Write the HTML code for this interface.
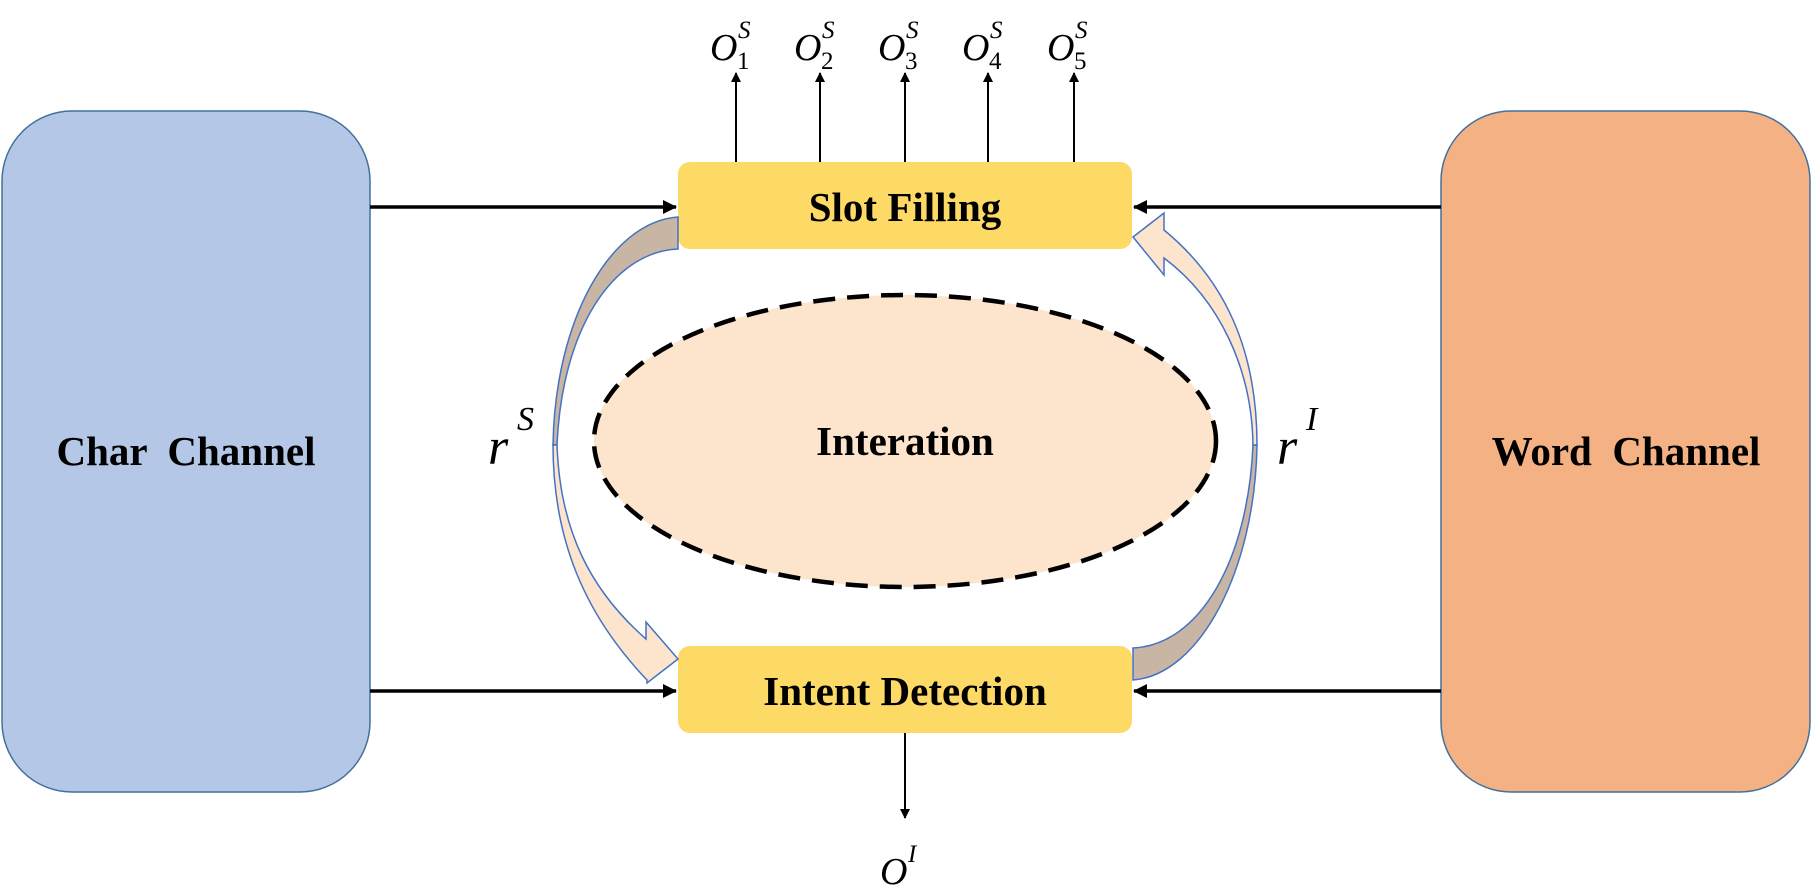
<!DOCTYPE html>
<html><head><meta charset="utf-8"><style>
html,body{margin:0;padding:0;background:#fff;}
svg{display:block;}
text{font-family:"Liberation Serif",serif;}
</style></head><body>
<svg width="1812" height="892" viewBox="0 0 1812 892" xmlns="http://www.w3.org/2000/svg">
<defs>
<marker id="ah" markerWidth="10" markerHeight="10" refX="9" refY="5" orient="auto" markerUnits="userSpaceOnUse">
<path d="M0,0 L10,5 L0,10 Z" fill="#000"/>
</marker>
<marker id="ah2" markerWidth="14" markerHeight="14" refX="13" refY="7" orient="auto" markerUnits="userSpaceOnUse">
<path d="M0,0 L14,7 L0,14 Z" fill="#000"/>
</marker>
</defs>
<rect x="2" y="111" width="368" height="681" rx="70" ry="70" fill="#b4c7e7" stroke="#41719c" stroke-width="1.5"/>
<rect x="1441" y="111" width="369" height="681" rx="70" ry="70" fill="#f4b183" stroke="#41719c" stroke-width="1.5"/>
<text x="186" y="465" font-size="41" font-weight="bold" text-anchor="middle" xml:space="preserve">Char  Channel</text>
<text x="1626" y="465" font-size="41" font-weight="bold" text-anchor="middle" xml:space="preserve">Word  Channel</text>
<rect x="678" y="162" width="454" height="87" rx="12" fill="#fdd966"/>
<rect x="678" y="646" width="454" height="87" rx="12" fill="#fdd966"/>
<text x="905" y="221" font-size="41" font-weight="bold" text-anchor="middle">Slot Filling</text>
<text x="905" y="705" font-size="41" font-weight="bold" text-anchor="middle">Intent Detection</text>
<g stroke="#000" stroke-width="3.5">
<line x1="370" y1="207" x2="676" y2="207" marker-end="url(#ah2)"/>
<line x1="370" y1="691" x2="676" y2="691" marker-end="url(#ah2)"/>
<line x1="1441" y1="207" x2="1134" y2="207" marker-end="url(#ah2)"/>
<line x1="1441" y1="691" x2="1134" y2="691" marker-end="url(#ah2)"/>
</g>
<g stroke="#000" stroke-width="2">
<line x1="736" y1="162" x2="736" y2="73" marker-end="url(#ah)"/>
<line x1="820" y1="162" x2="820" y2="73" marker-end="url(#ah)"/>
<line x1="905" y1="162" x2="905" y2="73" marker-end="url(#ah)"/>
<line x1="988" y1="162" x2="988" y2="73" marker-end="url(#ah)"/>
<line x1="1074" y1="162" x2="1074" y2="73" marker-end="url(#ah)"/>
<line x1="905" y1="733" x2="905" y2="818" marker-end="url(#ah)"/>
</g>
<g font-size="38" font-style="italic">
<text x="710" y="60">O</text><text x="738" y="38" font-size="25">S</text><text x="737" y="69" font-size="25" font-style="normal">1</text>
<text x="794" y="60">O</text><text x="822" y="38" font-size="25">S</text><text x="821" y="69" font-size="25" font-style="normal">2</text>
<text x="878" y="60">O</text><text x="906" y="38" font-size="25">S</text><text x="905" y="69" font-size="25" font-style="normal">3</text>
<text x="962" y="60">O</text><text x="990" y="38" font-size="25">S</text><text x="989" y="69" font-size="25" font-style="normal">4</text>
<text x="1047" y="60">O</text><text x="1075" y="38" font-size="25">S</text><text x="1074" y="69" font-size="25" font-style="normal">5</text>
<text x="880" y="884">O</text><text x="908" y="862" font-size="25">I</text>
</g>
<ellipse cx="905" cy="441" rx="311" ry="146" fill="#fde4cd" stroke="#000" stroke-width="4.5" stroke-dasharray="22,12"/>
<text x="905" y="455" font-size="41" font-weight="bold" text-anchor="middle">Interation</text>
<path d="M678,217 C610,222 555,320 553,445 L557,445 C562,330 612,252 678,249 Z" fill="#c9b5a3" stroke="#4472c4" stroke-width="1.5"/>
<path d="M553,445 C553,540 585,615 647,680 L647,683 L678,659 L646,622 L646,639 C590,590 560,530 557,445 Z" fill="#fde4cd" stroke="#4472c4" stroke-width="1.5"/>
<path d="M1133,680 C1200,675 1255,570 1257,445 L1253,445 C1248,560 1200,645 1133,648 Z" fill="#c9b5a3" stroke="#4472c4" stroke-width="1.5"/>
<path d="M1257,445 C1257,350 1225,280 1164,230 L1164,213 L1133,237 L1164,275 L1164,258 C1220,300 1252,370 1253,445 Z" fill="#fde4cd" stroke="#4472c4" stroke-width="1.5"/>
<text x="488" y="464" font-size="52" font-style="italic">r</text>
<text x="517" y="430" font-size="34" font-style="italic">S</text>
<text x="1277" y="464" font-size="52" font-style="italic">r</text>
<text x="1306" y="430" font-size="34" font-style="italic">I</text>
</svg>
</body></html>
